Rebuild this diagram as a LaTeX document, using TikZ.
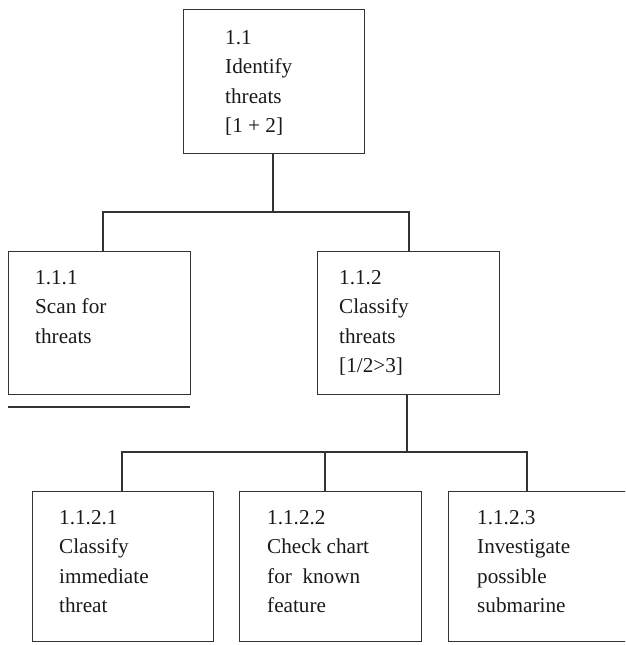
\documentclass[tikz,border=0pt]{standalone}
\usepackage{fontspec}
\setmainfont{Liberation Serif}
\begin{document}
\begin{tikzpicture}[x=1pt,y=-1pt,
  ink/.style={line width=1.3pt, draw=black!80},
  tbox/.style={ink, rectangle, anchor=north west, inner sep=0pt},
  label/.style={anchor=north west, inner sep=0pt, align=left,
    font=\fontsize{21.2}{29.5}\selectfont, text=black!90},
  wire/.style={ink, line cap=rect}]
\useasboundingbox (0,0) rectangle (625,645);
\clip (0,0) rectangle (625,645);

% level 1
\node[tbox, minimum width=181pt, minimum height=144pt] (b1) at (183,9) {};
\node[label] (t1) at ([xshift=42pt,yshift=-14.5pt]b1.north west)
  {\strut 1.1\\Identify\\threats\\{[1 + 2]}};

% level 2
\node[tbox, minimum width=182pt, minimum height=143pt] (b11) at (8,251) {};
\node[label] (t11) at ([xshift=27pt,yshift=-12.5pt]b11.north west)
  {\strut 1.1.1\\Scan for\\threats};
\node[tbox, minimum width=182pt, minimum height=143pt] (b12) at (317,251) {};
\node[label] (t12) at ([xshift=22pt,yshift=-12.5pt]b12.north west)
  {\strut 1.1.2\\Classify\\threats\\{[1/2>3]}};

% level 3
\node[tbox, minimum width=181pt, minimum height=150pt] (b121) at (32,491) {};
\node[label] (t121) at ([xshift=27pt,yshift=-12.5pt]b121.north west)
  {\strut 1.1.2.1\\Classify\\immediate\\threat};
\node[tbox, minimum width=182pt, minimum height=150pt] (b122) at (239,491) {};
\node[label] (t122) at ([xshift=28pt,yshift=-12.5pt]b122.north west)
  {\strut 1.1.2.2\\Check chart\\for\ \ known\\feature};
\node[tbox, minimum width=195pt, minimum height=150pt] (b123) at (448,491) {};
\node[label] (t123) at ([xshift=29pt,yshift=-12.5pt]b123.north west)
  {\strut 1.1.2.3\\Investigate\\possible\\submarine};

% connectors, level 1 to level 2
\coordinate (j1) at (273,212);
\coordinate (j1a) at (103,212);
\coordinate (j1b) at (409,212);
\draw[wire] (b1.south -| j1) -- (j1);
\draw[wire] (j1a) -- (j1b);
\draw[wire] (j1a) -- (j1a |- b11.north);
\draw[wire] (j1b) -- (j1b |- b12.north);

% rule under 1.1.1
\coordinate (r1) at (8,407);
\coordinate (r2) at (190,407);
\draw[ink] (r1) -- (r2);

% connectors, level 2 to level 3
\coordinate (j2) at (407,452);
\coordinate (j2a) at (122,452);
\coordinate (j2b) at (325,452);
\coordinate (j2c) at (527,452);
\draw[wire] (b12.south -| j2) -- (j2);
\draw[wire] (j2a) -- (j2c);
\draw[wire] (j2a) -- (j2a |- b121.north);
\draw[wire] (j2b) -- (j2b |- b122.north);
\draw[wire] (j2c) -- (j2c |- b123.north);
\end{tikzpicture}
\end{document}
